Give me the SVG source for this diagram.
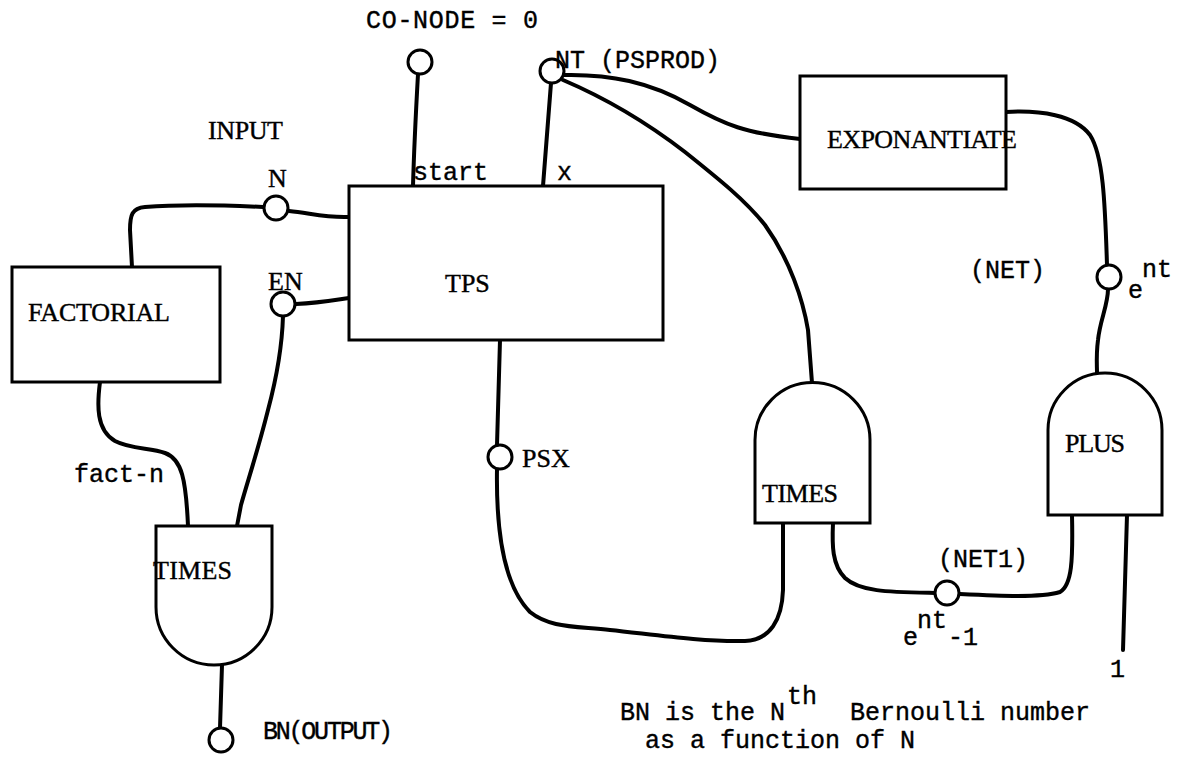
<svg xmlns="http://www.w3.org/2000/svg" width="1180" height="759" viewBox="0 0 1180 759">
<style>
.box{fill:#fff;stroke:#000;stroke-width:3}
.gate{fill:#fff;stroke:#000;stroke-width:3}
.wire{fill:none;stroke:#000;stroke-width:4;stroke-linecap:round;stroke-linejoin:round}
.port{fill:#fff;stroke:#000;stroke-width:3}
.mono{font-family:"Liberation Mono","DejaVu Sans Mono",monospace;font-size:25px;fill:#000;stroke:#000;stroke-width:0.4}
.serif{font-family:"Liberation Serif","DejaVu Serif",serif;font-size:26px;fill:#000;stroke:#000;stroke-width:0.4}
</style>
<rect width="1180" height="759" fill="#fff"/>
<g id="connectors">
<path class="wire" d="M418,74 C416,110 414,150 413,186"/>
<path class="wire" d="M551,83 L543,186"/>
<path class="wire" d="M564,75 C610,74 650,82 690,105 C725,125 745,133 800,139"/>
<path class="wire" d="M563,80 C610,100 650,125 685,152 C720,180 745,200 765,225 C790,260 803,300 808,330 L812,383"/>
<path class="wire" d="M289,211 C310,213 325,218 349,217"/>
<path class="wire" d="M263,207 C220,205 170,205 145,207 C132,208 130,215 130,230 L132,267"/>
<path class="wire" d="M296,304 C320,303 335,300 349,298"/>
<path class="wire" d="M283,316 C282,350 276,380 268,410 C258,450 248,480 241,505 L237,526"/>
<path class="wire" d="M100,382 C97,405 96,430 115,441 C130,449 150,448 165,453 C182,459 186,480 188,526"/>
<path class="wire" d="M222,665 L220,728"/>
<path class="wire" d="M500,340 L497,445"/>
<path class="wire" d="M497,469 C496,530 503,585 530,612 C550,628 575,626 610,630 C650,634 700,642 745,641 C770,640 782,620 783,590 L783,523"/>
<path class="wire" d="M833,523 C832,545 832,565 845,578 C860,592 890,592 935,593"/>
<path class="wire" d="M959,594 C1000,596 1040,598 1060,592 C1072,585 1073,560 1072,515"/>
<path class="wire" d="M1006,112 C1040,110 1075,115 1090,135 C1103,155 1105,200 1107,265"/>
<path class="wire" d="M1108,289 C1108,305 1100,320 1098,340 C1096,355 1097,365 1097,373"/>
<path class="wire" d="M1127,515 L1123,650"/>
</g>
<g id="tps">
<rect class="box" x="349" y="186" width="314" height="154"/>
<text class="serif" x="445" y="292">TPS</text>
<text class="mono" x="413" y="180">start</text>
<text class="mono" x="557" y="180">x</text>
</g>
<g id="factorial">
<rect class="box" x="12" y="267" width="208" height="115"/>
<text class="serif" x="28" y="321" textLength="142">FACTORIAL</text>
</g>
<g id="exponantiate">
<rect class="box" x="800" y="76" width="206" height="113"/>
<text class="serif" x="827" y="148" textLength="190">EXPONANTIATE</text>
</g>
<g id="times-left">
<path class="gate" d="M156,526 L272,526 L272,607 A58,58 0 0 1 156,607 Z"/>
<text class="serif" x="153" y="579" textLength="79">TIMES</text>
</g>
<g id="times-mid">
<path class="gate" d="M755,523 L755,440 A57.5,57.5 0 0 1 870,440 L870,523 Z"/>
<text class="serif" x="762" y="502" textLength="76">TIMES</text>
</g>
<g id="plus">
<path class="gate" d="M1048,515 L1048,430 A57,57 0 0 1 1162,430 L1162,515 Z"/>
<text class="serif" x="1065" y="452" textLength="60">PLUS</text>
</g>
<g id="co-node">
<circle class="port" cx="420" cy="62" r="12"/>
<text class="mono" x="366" y="28" textLength="172">CO-NODE = 0</text>
</g>
<g id="nt">
<circle class="port" cx="552" cy="71" r="12"/>
<text class="mono" x="555" y="68">NT (PSPROD)</text>
</g>
<g id="n-input">
<circle class="port" cx="276" cy="208" r="12"/>
<text class="serif" x="208" y="139" textLength="75">INPUT</text>
<text class="serif" x="268" y="187">N</text>
</g>
<g id="en">
<circle class="port" cx="283" cy="304" r="12"/>
<text class="serif" x="268" y="290">EN</text>
</g>
<g id="psx">
<circle class="port" cx="500" cy="457" r="12"/>
<text class="serif" x="522" y="467">PSX</text>
</g>
<g id="net">
<circle class="port" cx="1109" cy="277" r="12"/>
<text class="mono" x="970" y="278">(NET)</text>
<text class="mono" x="1128" y="298">e</text>
<text class="mono" x="1142" y="277">nt</text>
</g>
<g id="net1">
<circle class="port" cx="947" cy="593" r="12"/>
<text class="mono" x="938" y="567">(NET1)</text>
<text class="mono" x="903" y="645">e</text>
<text class="mono" x="917" y="628">nt</text>
<text class="mono" x="948" y="645">-1</text>
</g>
<g id="one">
<text class="mono" x="1110" y="677">1</text>
</g>
<g id="fact-n">
<text class="mono" x="74" y="482">fact-n</text>
</g>
<g id="bn-output">
<circle class="port" cx="221" cy="740" r="12"/>
<text class="mono" x="263" y="739" textLength="130">BN(OUTPUT)</text>
</g>
<g id="note">
<text class="mono" x="620" y="720">BN is the N</text>
<text class="mono" x="787" y="704">th</text>
<text class="mono" x="850" y="720">Bernoulli number</text>
<text class="mono" x="645" y="748">as a function of N</text>
</g>
</svg>
